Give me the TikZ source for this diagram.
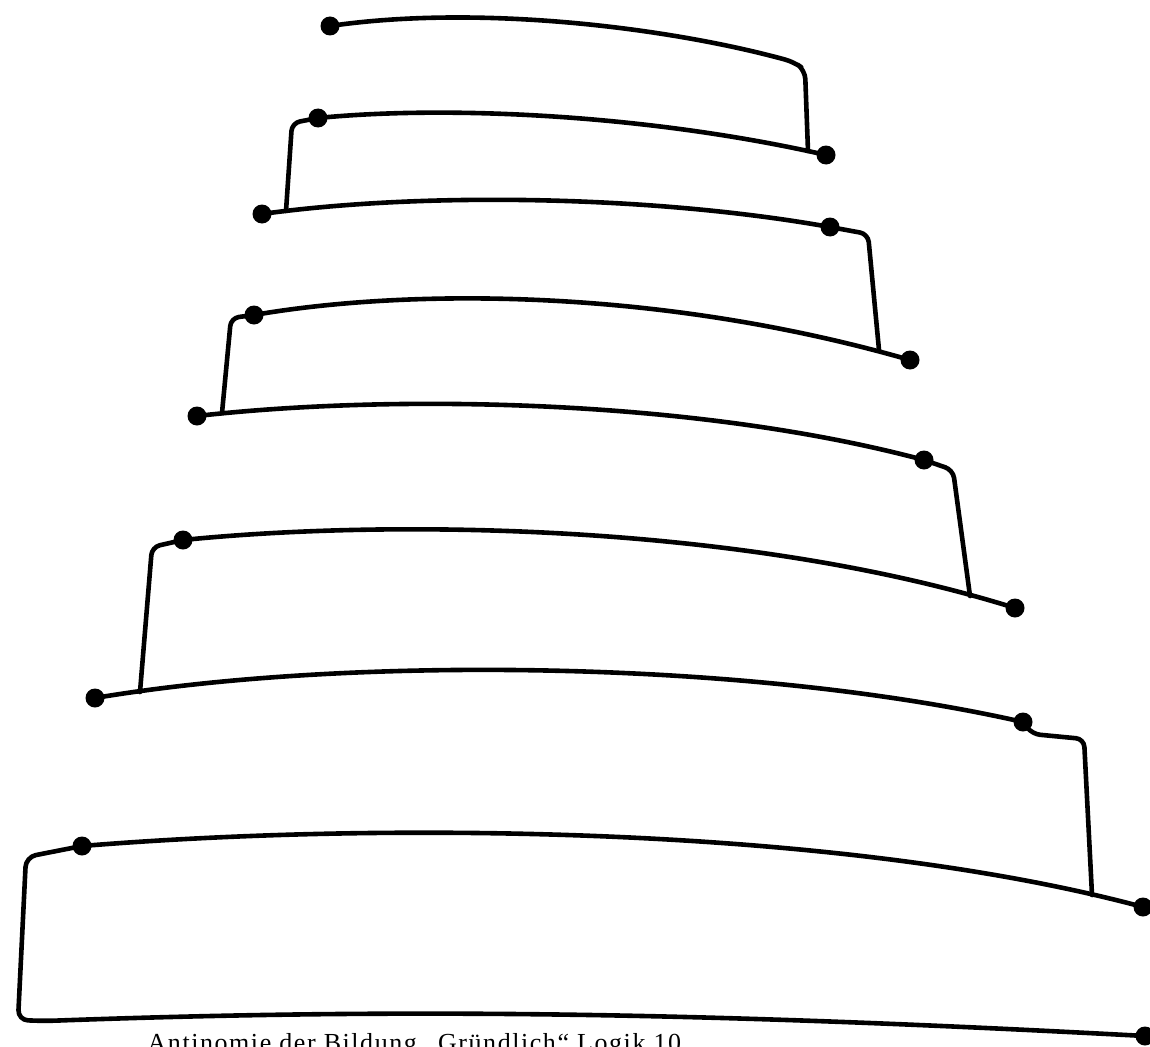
\documentclass[tikz,border=0pt]{standalone}
\usepackage{fontspec}
\setmainfont{Liberation Serif}
\begin{document}
\begin{tikzpicture}[x=1pt, y=-1pt, line width=4.6pt, line join=round, line cap=round,
		punkt/.style={circle, fill=black, inner sep=0pt, minimum size=19pt}]
		\useasboundingbox (0,0) rectangle (1150,1046);
		% точки
		\foreach \n/\x/\y in {a1/330/26, a2/318/118, b2/826/155, a3/262/214, b3/830/227,
			a4/254/315, b4/910/360, a5/197/416, b5/924/460, a6/183/540, b6/1015/608,
			a7/95/698, b7/1023/722, a8/82/846, b8/1143/907, b9/1145/1036}{
			\node[punkt] (\n) at (\x,\y) {};
		}
		% стыки ступеней
		\coordinate (j1) at (808,151);
		\coordinate (j2) at (286,211);
		\coordinate (j3) at (879,350);
		\coordinate (j4) at (222,413);
		\coordinate (j5) at (970,596);
		\coordinate (j6) at (140,692);
		\coordinate (j7) at (1092,895);
		% дуги
		\draw[rounded corners=9pt] (a1.center) .. controls (480,4) and (670,28) .. (794,62) -- (805,70) -- (j1);
		\draw (a2.center) .. controls (450,105) and (650,115) .. (b2.center);
		\draw (a3.center) .. controls (420,192) and (650,195) .. (b3.center);
		\draw (a4.center) .. controls (410,288) and (660,288) .. (b4.center);
		\draw (a5.center) .. controls (400,393) and (700,400) .. (b5.center);
		\draw (a6.center) .. controls (400,518) and (750,525) .. (b6.center);
		\draw (a7.center) .. controls (350,655) and (750,660) .. (b7.center);
		\draw (a8.center) .. controls (400,820) and (850,828) .. (b8.center);
		% вертикали
		\draw[rounded corners=8pt] (a2.center) -- (292,123) -- (j2);
		\draw[rounded corners=8pt] (b3.center) -- (868,234) -- (j3);
		\draw[rounded corners=8pt] (a4.center) -- (231,318) -- (j4);
		\draw[rounded corners=8pt] (b5.center) -- (953,470) -- (j5);
		\draw[rounded corners=8pt] (a6.center) -- (152,547) -- (j6);
		\draw[rounded corners=8pt] (b7.center) -- (1032,734) -- (1084,739) -- (j7);
		% основание
		\draw[rounded corners=10pt] (a8.center) -- (26,857) -- (18,1020) -- (45,1021)
			.. controls (400,1008) and (700,1012) .. (b9.center);
		% подпись
		\node[anchor=base west, font=\fontsize{26}{30}\selectfont\addfontfeature{LetterSpace=6}] (titel) at (142,1051)
			{Antinomie der Bildung „Gründlich“ Logik 10};
	\end{tikzpicture}
\end{document}
